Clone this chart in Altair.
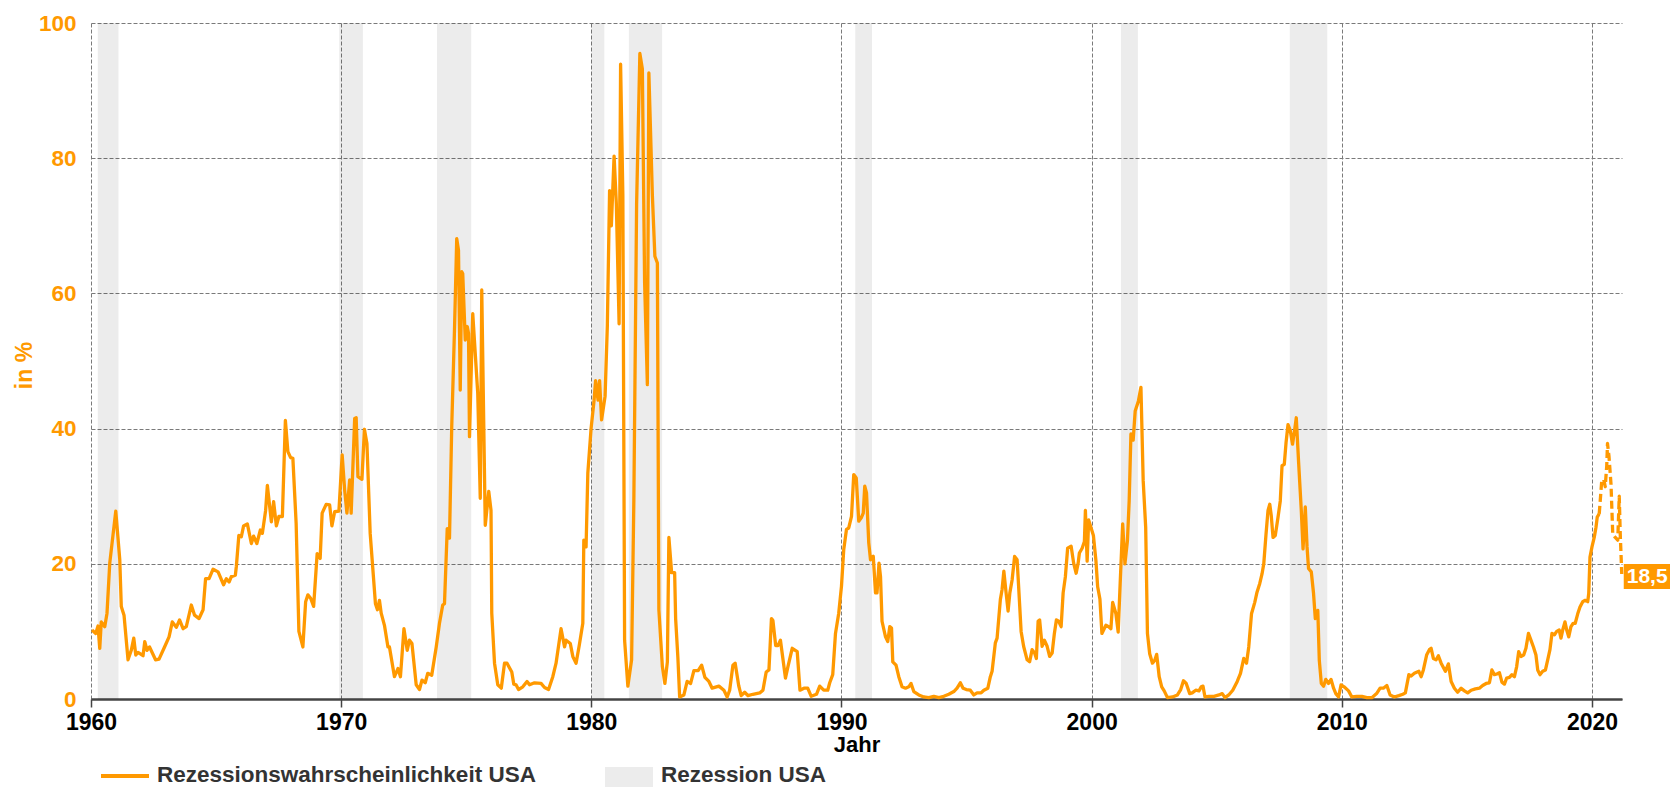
import altair as alt
import pandas as pd

# ---------------- data ----------------
dates = [1960.04, 1960.19, 1960.28, 1960.35, 1960.41, 1960.55, 1960.64, 1960.75, 1960.99, 1961.15,
         1961.21, 1961.32, 1961.48, 1961.61, 1961.71, 1961.79, 1961.88, 1962.08, 1962.15, 1962.24,
         1962.34, 1962.58, 1962.72, 1962.94, 1963.12, 1963.25, 1963.41, 1963.54, 1963.68, 1963.81,
         1964.01, 1964.14, 1964.32, 1964.48, 1964.58, 1964.72, 1964.88, 1965.08, 1965.30, 1965.41,
         1965.52, 1965.61, 1965.77, 1965.81, 1965.91, 1966.01, 1966.10, 1966.25, 1966.41, 1966.50,
         1966.63, 1966.77, 1966.85, 1966.98, 1967.05, 1967.21, 1967.30, 1967.41, 1967.51, 1967.65,
         1967.77, 1967.87, 1967.98, 1968.07, 1968.20, 1968.31, 1968.47, 1968.58, 1968.67, 1968.78,
         1968.90, 1969.04, 1969.16, 1969.24, 1969.40, 1969.54, 1969.63, 1969.74, 1969.91, 1970.04,
         1970.14, 1970.23, 1970.34, 1970.40, 1970.54, 1970.60, 1970.67, 1970.83, 1970.93, 1971.03,
         1971.16, 1971.37, 1971.45, 1971.53, 1971.60, 1971.73, 1971.87, 1971.93,
         1972.13, 1972.27, 1972.37, 1972.51, 1972.64, 1972.73, 1972.83, 1973.00, 1973.13, 1973.23,
         1973.36, 1973.46, 1973.62, 1973.80, 1973.93, 1974.06, 1974.13, 1974.24, 1974.33, 1974.42,
         1974.53, 1974.62, 1974.69, 1974.76, 1974.82, 1974.86, 1974.96, 1975.04, 1975.09, 1975.13,
         1975.26, 1975.46, 1975.56, 1975.62, 1975.76, 1975.90, 1975.99, 1976.02, 1976.13, 1976.26,
         1976.40, 1976.53, 1976.63, 1976.82, 1976.90, 1976.99, 1977.09, 1977.26, 1977.43, 1977.53,
         1977.73, 1977.99, 1978.13, 1978.29, 1978.46, 1978.59, 1978.79, 1978.93, 1978.99, 1979.16,
         1979.26, 1979.39, 1979.52, 1979.66, 1979.70, 1979.79, 1979.86, 1979.99,
         1980.11, 1980.17, 1980.27, 1980.33, 1980.41, 1980.55, 1980.64, 1980.73, 1980.80, 1980.91,
         1981.00, 1981.11, 1981.17, 1981.26, 1981.33, 1981.46, 1981.61, 1981.70, 1981.81, 1981.94,
         1982.04, 1982.13, 1982.24, 1982.30, 1982.44, 1982.54, 1982.64, 1982.70, 1982.84, 1982.94,
         1983.04, 1983.10, 1983.21, 1983.33, 1983.37, 1983.46, 1983.53, 1983.70, 1983.83, 1983.97,
         1984.10, 1984.27, 1984.41, 1984.54, 1984.70, 1984.83, 1985.10, 1985.30, 1985.43,
         1985.53, 1985.66, 1985.75, 1985.89, 1985.99, 1986.13, 1986.26, 1986.46, 1986.73, 1986.86,
         1986.99, 1987.10, 1987.20, 1987.26, 1987.37, 1987.46,
         1987.56, 1987.76, 1987.86, 1988.03, 1988.23, 1988.34, 1988.50, 1988.65, 1988.79, 1989.00,
         1989.13, 1989.29, 1989.45, 1989.53, 1989.65, 1989.76, 1989.89, 1990.00, 1990.09, 1990.20,
         1990.29, 1990.40, 1990.49, 1990.59, 1990.69, 1990.79, 1990.87, 1990.93, 1991.00, 1991.09,
         1991.16, 1991.27, 1991.36, 1991.42, 1991.50, 1991.56, 1991.62, 1991.76, 1991.85, 1991.93,
         1992.00, 1992.05, 1992.18, 1992.29, 1992.42, 1992.56, 1992.69, 1992.78, 1992.89, 1993.09,
         1993.29, 1993.49, 1993.69, 1993.89, 1994.09, 1994.29, 1994.49, 1994.62, 1994.75, 1994.86,
         1994.99, 1995.15, 1995.29, 1995.42, 1995.58, 1995.69, 1995.85, 1995.95, 1996.02, 1996.15,
         1996.22, 1996.35, 1996.42, 1996.49, 1996.58, 1996.66, 1996.73, 1996.82, 1996.92, 1997.02,
         1997.08, 1997.18, 1997.28, 1997.42, 1997.52, 1997.62, 1997.72, 1997.79, 1997.86, 1997.92,
         1998.02, 1998.11, 1998.22, 1998.32, 1998.42, 1998.51, 1998.59, 1998.68, 1998.78, 1998.86,
         1998.95, 1999.04, 1999.18, 1999.28, 1999.38, 1999.46, 1999.51, 1999.62, 1999.71, 1999.75,
         1999.82, 1999.88,
         2000.07, 2000.17, 2000.24, 2000.33, 2000.41, 2000.57, 2000.68, 2000.77, 2000.84, 2000.97,
         2001.06, 2001.14, 2001.24, 2001.33, 2001.43, 2001.50, 2001.57, 2001.66, 2001.74, 2001.87,
         2001.97, 2002.06, 2002.16, 2002.23, 2002.32, 2002.43, 2002.52, 2002.60, 2002.70, 2002.80,
         2002.90, 2003.03, 2003.23, 2003.43, 2003.56, 2003.67, 2003.78, 2003.92, 2004.02, 2004.16,
         2004.29, 2004.38, 2004.45, 2004.53, 2004.69, 2004.89, 2005.09, 2005.22, 2005.33, 2005.48,
         2005.64, 2005.82, 2005.95, 2006.08, 2006.19, 2006.28, 2006.39, 2006.52, 2006.61, 2006.72,
         2006.81, 2006.88, 2006.97, 2007.05, 2007.12, 2007.18, 2007.25, 2007.34, 2007.45, 2007.54,
         2007.61, 2007.70, 2007.77, 2007.85, 2007.94, 2008.03, 2008.11, 2008.18, 2008.27, 2008.38,
         2008.45, 2008.54, 2008.61, 2008.67, 2008.78, 2008.87, 2008.94, 2009.04, 2009.10, 2009.18,
         2009.27, 2009.36, 2009.47, 2009.57, 2009.67, 2009.76, 2009.87, 2009.97, 2010.09, 2010.27,
         2010.40, 2010.60, 2010.80, 2011.00, 2011.20, 2011.39, 2011.53, 2011.66,
         2011.80, 2011.93, 2012.10, 2012.28, 2012.44, 2012.54, 2012.68, 2012.77, 2012.90, 2013.08,
         2013.17, 2013.26, 2013.39, 2013.50, 2013.57, 2013.66, 2013.77, 2013.86, 2013.97, 2014.14,
         2014.26, 2014.37, 2014.50, 2014.63, 2014.77, 2014.90, 2015.03, 2015.17, 2015.34, 2015.50,
         2015.63, 2015.77, 2015.90, 2016.00, 2016.10, 2016.20, 2016.30, 2016.40, 2016.50, 2016.59,
         2016.70, 2016.80, 2016.90, 2016.99, 2017.07, 2017.16, 2017.27, 2017.36, 2017.46, 2017.56,
         2017.66, 2017.76, 2017.83, 2017.92, 2018.03, 2018.14, 2018.23, 2018.32, 2018.40, 2018.50,
         2018.59, 2018.69, 2018.76, 2018.83, 2018.92, 2018.99, 2019.07, 2019.16, 2019.25, 2019.33,
         2019.43, 2019.52, 2019.63, 2019.73, 2019.83, 2019.87, 2019.92, 2020.00, 2020.09, 2020.16,
         2020.21, 2020.29]

probs = [10.2, 9.7, 10.8, 7.5, 11.4, 10.7, 12.7, 20.1, 27.8, 20.6,
         13.7, 12.4, 5.8, 7.2, 9.0, 6.5, 6.9, 6.4, 8.5, 7.2,
         7.7, 5.8, 5.9, 7.7, 9.2, 11.4, 10.6, 11.7, 10.4, 10.7,
         13.9, 12.4, 11.9, 13.2, 17.8, 17.8, 19.2, 18.8, 16.9, 17.8,
         17.3, 18.1, 18.3, 19.6, 24.2, 24.0, 25.6, 25.9, 23.0, 24.1,
         23.0, 25.0, 24.5, 27.9, 31.6, 26.2, 29.2, 25.6, 27.0, 27.0,
         41.2, 36.6, 35.7, 35.6, 26.0, 10.0, 7.7, 14.4, 15.4, 14.9,
         13.7, 21.5, 20.8, 27.5, 28.8, 28.7, 25.6, 27.7, 27.8, 36.1,
         30.9, 27.5, 32.4, 27.5, 41.5, 41.6, 32.9, 32.5, 39.9, 37.8,
         24.5, 14.1, 13.2, 14.6, 12.7, 10.9, 7.7, 7.7,
         3.3, 4.5, 3.3, 10.4, 7.2, 8.7, 8.2, 2.1, 1.4, 2.8,
         2.4, 3.8, 3.5, 7.7, 11.2, 13.9, 14.1, 25.2, 23.8, 40.3,
         54.6, 68.1, 66.4, 45.7, 63.2, 62.9, 53.1, 55.1, 54.1, 38.8,
         57.0, 45.2, 29.7, 60.5, 25.7, 30.7, 27.9, 12.7, 5.3, 2.1,
         1.6, 5.3, 5.3, 4.0, 2.2, 2.1, 1.4, 1.8, 2.6, 2.1,
         2.4, 2.3, 1.7, 1.4, 3.3, 5.3, 10.4, 7.7, 8.7, 8.2,
         6.3, 5.3, 8.0, 11.2, 23.5, 22.5, 33.4, 40.0,
         44.2, 47.1, 44.2, 47.1, 41.3, 44.8, 55.2, 75.2, 70.0, 80.3,
         73.2, 55.5, 93.9, 74.5, 8.7, 1.9, 5.8, 29.4, 73.2, 95.5,
         93.2, 61.6, 46.5, 92.6, 74.5, 65.5, 64.5, 13.2, 4.8, 2.3,
         5.5, 23.9, 18.7, 18.7, 11.9, 6.1, 0.3, 0.6, 2.6, 2.3,
         4.2, 4.2, 5.0, 3.2, 2.6, 1.6, 1.9, 1.3, 0.3,
         1.3, 5.0, 5.3, 2.0, 0.5, 1.0, 0.5, 0.7, 0.9, 1.3,
         4.0, 4.3, 11.9, 11.6, 7.9, 7.9,
         8.7, 3.1, 4.8, 7.5, 7.0, 1.3, 1.6, 1.6, 0.4, 0.7,
         1.9, 1.3, 1.3, 2.4, 3.6, 9.7, 12.7, 16.7, 22.1, 25.1,
         25.3, 27.0, 33.2, 32.7, 26.3, 26.8, 27.5, 31.5, 30.5, 23.1,
         20.6, 21.1, 15.7, 15.7, 20.1, 18.1, 11.5, 9.2, 8.5, 10.7,
         10.5, 5.5, 5.0, 3.3, 1.8, 1.6, 1.8, 2.3, 1.1, 0.6,
         0.3, 0.2, 0.4, 0.2, 0.4, 0.7, 1.1, 1.6, 2.4, 1.6,
         1.4, 1.3, 0.6, 0.9, 0.9, 1.3, 1.6, 3.3, 4.1, 8.3,
         9.0, 14.7, 16.2, 18.9, 15.7, 13.0, 15.7, 17.6, 21.1, 20.6,
         16.7, 10.0, 7.8, 5.8, 5.5, 7.3, 6.8, 6.0, 11.5, 11.7,
         7.8, 8.7, 7.8, 6.3, 6.8, 9.7, 11.7, 11.5, 10.7, 15.7,
         18.1, 22.3, 22.6, 20.1, 18.6, 20.1, 21.6, 22.3, 23.3, 27.9,
         20.4, 26.5,
         24.2, 20.5, 16.6, 14.8, 9.7, 10.9, 10.7, 10.4, 14.3, 12.6,
         9.9, 17.1, 25.9, 20.0, 23.4, 29.3, 39.2, 38.3, 42.6, 44.1,
         46.1, 32.3, 25.4, 9.7, 6.7, 5.3, 5.7, 6.6, 3.3, 1.8,
         1.2, 0.2, 0.3, 0.6, 1.4, 2.7, 2.3, 0.8, 0.9, 1.3,
         1.2, 1.8, 1.9, 0.3, 0.4, 0.4, 0.6, 0.8, 0.2, 0.6,
         1.3, 2.6, 3.8, 6.0, 5.3, 7.7, 12.6, 14.3, 15.8, 17.1,
         18.5, 20.0, 24.4, 27.9, 28.8, 27.1, 23.9, 24.2, 26.9, 29.3,
         34.5, 34.7, 37.9, 40.6, 39.7, 37.7, 39.7, 41.6, 35.2, 27.9,
         22.2, 28.4, 22.5, 19.3, 18.8, 15.6, 11.9, 13.1, 5.7, 2.3,
         1.9, 2.9, 2.3, 2.9, 1.6, 0.8, 0.3, 2.1, 1.8, 1.2,
         0.3, 0.4, 0.4, 0.2, 0.2, 0.8, 1.6, 1.6,
         2.0, 0.6, 0.3, 0.5, 0.7, 0.9, 3.6, 3.4, 3.8, 4.1,
         3.3, 4.3, 6.5, 7.3, 7.5, 6.0, 5.8, 6.4, 5.3, 4.1,
         5.2, 2.6, 1.6, 1.0, 1.6, 1.2, 0.9, 1.3, 1.5, 1.6,
         2.0, 2.3, 2.4, 4.3, 3.6, 3.7, 3.9, 2.5, 2.2, 3.1,
         3.2, 3.6, 3.3, 4.8, 7.0, 6.3, 6.5, 7.5, 9.7, 8.7,
         7.7, 6.5, 4.3, 3.6, 4.1, 4.3, 5.8, 7.3, 9.7, 9.5,
         10.0, 10.2, 9.0, 10.2, 11.4, 10.2, 9.2, 10.7, 11.2, 11.2,
         12.6, 13.6, 14.4, 14.6, 14.4, 15.6, 21.0, 22.5, 23.9, 25.4,
         26.9, 27.4]

# forecast part (dashed)
fc_dates = [2020.29, 2020.39, 2020.47, 2020.53, 2020.59, 2020.62, 2020.68, 2020.76, 2020.83,
            2020.93, 2021.03, 2021.09, 2021.13, 2021.19]
fc_probs = [27.4, 32.3, 32.5, 31.4, 34.5, 37.8, 35.9, 31.8, 24.4,
            23.9, 23.5, 30.0, 24.4, 18.5]

# recessions
rec_start = [1960.27, 1969.92, 1973.83, 1980.00, 1981.50, 1990.55, 2001.17, 2007.92]
rec_end = [1961.10, 1970.87, 1975.20, 1980.52, 1982.83, 1991.22, 2001.85, 2009.42]

x_ticks = [1960, 1970, 1980, 1990, 2000, 2010, 2020]
y_ticks = [0, 20, 40, 60, 80, 100]

legend_labels = ["Rezessionswahrscheinlichkeit USA", "Rezession USA"]

# ---------------- styling ----------------
ORANGE = "#ff9900"
FONT = "Liberation Sans"
W, H = 1531, 676
GRID = "#7a7a7a"

df = pd.DataFrame({"jahr": dates, "wert": probs})
fc = pd.DataFrame({"jahr": fc_dates, "wert": fc_probs})
rec = pd.DataFrame({"start": rec_start, "ende": rec_end})
last = fc.tail(1).copy()
last["label"] = last["wert"].map(lambda v: f"{v:.1f}".replace(".", ","))

xscale = alt.Scale(domain=[1960, 2021.2], nice=False, zero=False)
yscale = alt.Scale(domain=[0, 100], nice=False)

xaxis = alt.Axis(values=x_ticks, format="d", labelFont=FONT, labelFontSize=23,
                 labelFontWeight="bold", labelColor="#000000", labelPadding=4,
                 labelFlush=False, tickSize=8, tickColor="#444444", tickWidth=1.5,
                 domainColor="#444444", domainWidth=2.5, grid=True, gridColor=GRID,
                 gridDash=[4, 2], gridWidth=1, titleFont=FONT, titleFontSize=22,
                 titleFontWeight="bold", titleColor="#000000", titlePadding=0)
yaxis = alt.Axis(values=y_ticks, labelFont=FONT, labelFontSize=22.5, labelFontWeight="bold",
                 labelColor=ORANGE, labelPadding=15, ticks=False, domain=False,
                 grid=True, gridColor=GRID, gridDash=[4, 2], gridWidth=1,
                 titleFont=FONT, titleFontSize=23, titleFontWeight="bold",
                 titleColor=ORANGE, titleAngle=270, titleAlign="center",
                 titleBaseline="alphabetic", titleX=-60, titleY=H / 2 + 4)

bands = alt.Chart(rec).mark_rect(color="#000000", opacity=0.075).encode(
    x=alt.X("start:Q", scale=xscale, axis=xaxis, title="Jahr"),
    x2="ende:Q",
    y=alt.Y(datum=0, scale=yscale, axis=yaxis, title="in %"),
    y2=alt.Y2(datum=100),
)

line = alt.Chart(df).mark_line(color=ORANGE, strokeWidth=3.3, strokeJoin="round").encode(
    x=alt.X("jahr:Q", scale=xscale, axis=xaxis, title="Jahr"),
    y=alt.Y("wert:Q", scale=yscale, axis=yaxis, title="in %"),
)

dashed = alt.Chart(fc).mark_line(color=ORANGE, strokeWidth=3.3, strokeDash=[8, 4],
                                 strokeJoin="round").encode(
    x=alt.X("jahr:Q", scale=xscale, axis=xaxis, title="Jahr"),
    y=alt.Y("wert:Q", scale=yscale, axis=yaxis, title="in %"),
)

label_box = alt.Chart(last).mark_rect(color=ORANGE, xOffset=2, x2Offset=80,
                                      yOffset=-10, y2Offset=15).encode(
    x=alt.X("jahr:Q", scale=xscale, axis=xaxis, title="Jahr"),
    x2="jahr:Q",
    y=alt.Y("wert:Q", scale=yscale, axis=yaxis, title="in %"),
    y2="wert:Q",
)
label_text = alt.Chart(last).mark_text(align="left", baseline="middle", dx=5, dy=3,
                                       font=FONT, fontSize=21, fontWeight="bold",
                                       color="#ffffff").encode(
    x=alt.X("jahr:Q", scale=xscale, axis=xaxis, title="Jahr"),
    y=alt.Y("wert:Q", scale=yscale, axis=yaxis, title="in %"),
    text="label:N",
)

# custom legend below the plot
one = pd.DataFrame({"k": [0]})
LEG_Y = 752
leg_line = alt.Chart(one).mark_rule(color=ORANGE, strokeWidth=4).encode(
    x=alt.value(10), x2=alt.value(58), y=alt.value(LEG_Y + 1))
leg_text1 = alt.Chart(one).mark_text(align="left", baseline="middle", font=FONT,
                                     fontSize=22.5, fontWeight="bold", color="#333333").encode(
    x=alt.value(66), y=alt.value(LEG_Y), text=alt.value(legend_labels[0]))
leg_box = alt.Chart(one).mark_rect(color="#ececec").encode(
    x=alt.value(514), x2=alt.value(562), y=alt.value(LEG_Y - 8), y2=alt.value(LEG_Y + 14))
leg_text2 = alt.Chart(one).mark_text(align="left", baseline="middle", font=FONT,
                                     fontSize=22.5, fontWeight="bold", color="#333333").encode(
    x=alt.value(570), y=alt.value(LEG_Y), text=alt.value(legend_labels[1]))

chart = alt.layer(
    bands, line, dashed, label_box, label_text, leg_line, leg_text1, leg_box, leg_text2
).properties(
    width=W, height=H,
    autosize=alt.AutoSizeParams(type="none"),
    padding={"left": 83, "top": 15, "right": 48, "bottom": 88},
).configure_view(stroke=None)

chart.save("out.html", embed_options={"renderer": "svg", "actions": False})
